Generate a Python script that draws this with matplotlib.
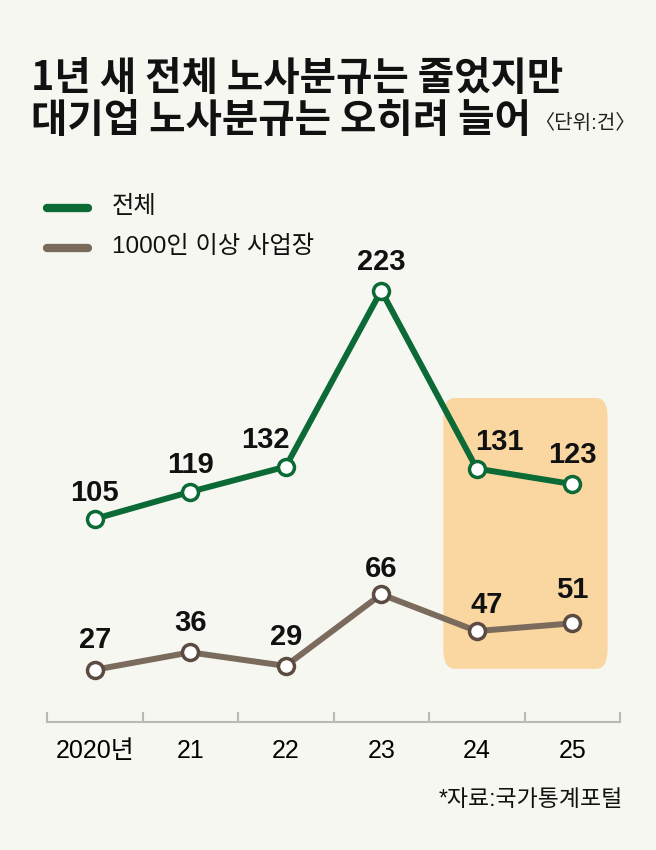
import matplotlib
matplotlib.use('Agg')
import matplotlib.pyplot as plt
from matplotlib.patches import FancyBboxPatch
from matplotlib import font_manager

# data
years = ['2020년', '21', '22', '23', '24', '25']
total = [105, 119, 132, 223, 131, 123]
large = [27, 36, 29, 66, 47, 51]

names = {f.name for f in font_manager.fontManager.ttflist}
narrow = 'Liberation Sans Narrow' if 'Liberation Sans Narrow' in names else 'Liberation Sans'
KR = 'Noto Sans CJK KR'
NUM = [narrow, KR, 'DejaVu Sans']

BG = '#f7f7f1'
GREEN = '#0b6a35'
BROWN = '#7a6b5d'
BROWN_EDGE = '#5b4b41'
BOX = '#fad7a1'

W, H = 656, 850
fig = plt.figure(figsize=(W / 100, H / 100), dpi=100)
fig.patch.set_facecolor(BG)


def px(x, y):
    return x / W, 1 - y / H


# axes: x 47..620 px, y=0 at 722 px
ax = fig.add_axes([47 / W, 1 - 722 / H, 573 / W, (722 - 250) / H])
ax.set_facecolor(BG)
ax.set_xlim(-0.5, 5.5)
ax.set_ylim(0, 244)
for s in ['top', 'right', 'left']:
    ax.spines[s].set_visible(False)
ax.spines['bottom'].set_color('#b9b9b6')
ax.spines['bottom'].set_linewidth(1.5)
ax.set_yticks([])
ax.set_xticks([i - 0.5 for i in range(7)])
ax.set_xticklabels([])
ax.tick_params(axis='x', which='major', direction='in', length=7, width=1.5, color='#b9b9b6')
ax.set_xticks(range(len(years)), minor=True)
ax.set_xticklabels(years, minor=True, family=NUM, fontsize=18)
ax.tick_params(axis='x', which='minor', length=0, pad=12)

# highlight box
ax.add_patch(FancyBboxPatch((3.65, 27.5), 1.72, 140, boxstyle='round,pad=0,rounding_size=0.12',
                            mutation_aspect=1 / 0.012, fc=BOX, ec='none', zorder=0))

x = range(len(years))
ax.plot(x, total, color=GREEN, lw=4.3, marker='o', ms=11.5, mfc='white', mec=GREEN, mew=2.5,
        clip_on=False, zorder=3)
ax.plot(x, large, color=BROWN, lw=4.3, marker='o', ms=11.5, mfc='white', mec=BROWN_EDGE, mew=2.5,
        clip_on=False, zorder=3)

# label offsets in pixels (dx, dy up)
off_total = [(0, 26), (0, 27), (-20, 27), (0, 29), (23, 27), (0, 29)]
off_large = [(0, 30), (0, 29), (0, 29), (0, 25), (10, 26), (0, 33)]
for series, offs in [(total, off_total), (large, off_large)]:
    for i, v in enumerate(series):
        dx, dy = offs[i]
        ax.annotate(str(v), (i, v), xytext=(dx * 0.72, dy * 0.72), textcoords='offset points',
                    ha='center', va='center', family=NUM, fontweight='bold', fontsize=21,
                    color='#111111', zorder=4)

# title
fig.text(*px(31, 79), '1년 새 전체 노사분규는 줄었지만', family=[KR], fontweight='bold',
         fontsize=28.5, ha='left', va='center', color='#111111')
fig.text(*px(31, 121), '대기업 노사분규는 오히려 늘어', family=[KR], fontweight='bold',
         fontsize=28.5, ha='left', va='center', color='#111111')
fig.text(*px(636, 123), '〈단위:건〉', family=[narrow, KR], fontsize=14.5,
         ha='right', va='center', color='#222222')

# legend
for yy, c, lab in [(208, GREEN, '전체'), (248, BROWN, '1000인 이상 사업장')]:
    fig.add_artist(plt.Line2D([47 / W, 88 / W], [1 - yy / H] * 2, color=c, lw=6,
                              solid_capstyle='round'))
    fig.text(*px(112, yy - 1), lab, family=NUM, fontsize=17.5, ha='left', va='center', color='#111111')

# source
fig.text(*px(623, 800), '*자료:국가통계포털', family=NUM, fontsize=16.5,
         ha='right', va='center', color='#111111')

fig.savefig('out.png', dpi=100, facecolor=BG)
